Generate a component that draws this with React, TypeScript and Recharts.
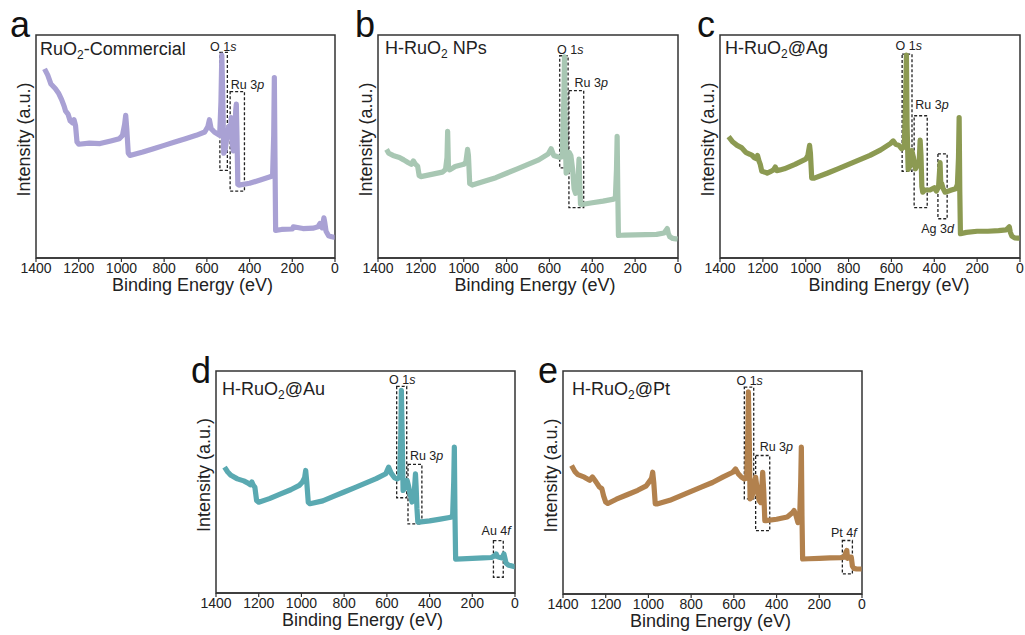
import { LineChart, Line, XAxis, YAxis, ReferenceArea, ReferenceDot } from "recharts";

const TICKS = [1400, 1200, 1000, 800, 600, 400, 200, 0];
const FONT = '"Liberation Sans", Arial, Helvetica, sans-serif';

// a: RuO2-Commercial
const commercialEnergy = [
  1360, 1345, 1330, 1310, 1295, 1280, 1268, 1262, 1250, 1240,
  1228, 1222, 1215, 1208, 1200, 1150, 1100, 1050, 1010, 995,
  985, 980, 975, 968, 960, 900, 850, 800, 750, 700,
  650, 610, 595, 588, 580, 565, 548, 540, 534, 530,
  526, 521, 515, 505, 497, 490, 486, 482, 476, 470,
  465, 462, 459, 455, 450, 400, 350, 300, 292, 287,
  284, 281, 278, 250, 200, 195, 150, 100, 80, 70,
  60, 52, 48, 42, 30, 15, 5, 2,
];
const commercialIntensity = [
  84.8, 82, 78, 76, 74, 71, 68, 66, 64.5, 61.5,
  60.5, 62, 59.5, 52, 51, 51.5, 51.3, 52.5, 53.5, 55,
  60, 64, 58, 47, 46, 47.5, 49, 50.5, 52, 53.5,
  55, 56.5, 59, 62, 58, 56.5, 55.5, 55, 70, 91,
  75, 47, 48, 55, 59, 55, 63, 52, 48, 50,
  66, 69, 55, 33, 32.7, 33.5, 35, 36.5, 37.5, 55,
  80.9, 45, 12.4, 12.8, 13, 14, 13.2, 13.4, 14, 15.5,
  13.5, 18, 16, 12, 10, 9.5, 9.3, 9.3,
];

// b: H-RuO2 NPs
const npsEnergy = [
  1360, 1350, 1330, 1300, 1280, 1260, 1245, 1235, 1225, 1215,
  1208, 1200, 1150, 1100, 1085, 1078, 1075, 1071, 1065, 1040,
  1000, 990, 982, 978, 972, 960, 900, 850, 800, 750,
  700, 650, 605, 592, 580, 565, 550, 540, 533, 530,
  527, 522, 515, 508, 500, 492, 485, 478, 470, 465,
  462, 459, 455, 450, 400, 350, 300, 292, 287, 284,
  281, 278, 250, 200, 150, 100, 65, 55, 50, 45,
  38, 25, 10, 2,
];
const npsIntensity = [
  48.7, 47, 46, 45.1, 44, 42.8, 42, 43.5, 42, 41.2,
  37, 36.5, 37.5, 38.5, 39.7, 45, 56.8, 40, 39.5, 41,
  42, 43, 48.7, 46, 33.4, 32.7, 34.5, 36, 38, 40,
  42, 44, 46.7, 49, 46, 45.5, 45.1, 45.5, 70, 90.2,
  60, 38.1, 39, 47.4, 46, 40, 31, 29, 32, 38,
  44.3, 35, 24.1, 24, 24.8, 25.5, 26.4, 27.5, 40, 54.6,
  30, 10.1, 10.3, 10.4, 10.5, 10.6, 11.2, 12.5, 13.2, 11,
  9.5, 8.8, 8.6, 8.5,
];

// c: H-RuO2@Ag
const agEnergy = [
  1360, 1340, 1320, 1300, 1280, 1260, 1250, 1240, 1230, 1225,
  1218, 1212, 1205, 1190, 1180, 1160, 1150, 1142, 1135, 1120,
  1100, 1050, 1000, 990, 982, 978, 972, 960, 900, 850,
  800, 750, 700, 650, 605, 592, 580, 565, 552, 540,
  534, 530, 527, 522, 515, 505, 497, 488, 480, 470,
  466, 462, 458, 454, 445, 420, 400, 390, 380, 376,
  373, 370, 366, 360, 350, 320, 300, 292, 287, 284,
  281, 278, 250, 200, 150, 100, 65, 55, 50, 45,
  38, 25, 10, 2,
];
const agIntensity = [
  54.4, 52, 50.5, 49.5, 47.4, 46.5, 46, 45, 44.5, 46,
  43.5, 42, 38.9, 38.5, 38.1, 39, 39.5, 40.8, 39.2, 39.5,
  40, 42, 44.3, 46, 50.5, 47, 35.8, 35.8, 38, 40,
  42, 44, 46, 48.5, 51.3, 52.5, 51, 50.5, 49, 50,
  70, 91, 60, 39.7, 41, 48.2, 45, 40, 41.5, 44,
  52.9, 46, 32, 29.5, 30.5, 30.5, 31.5, 30, 32, 38,
  42.8, 34, 33.5, 31.5, 29.5, 30.5, 31.1, 33, 45, 63,
  30, 10.9, 11.5, 12, 12, 12.3, 12.6, 13.5, 14, 11.5,
  9.8, 9, 8.9, 8.9,
];

// d: H-RuO2@Au
const auEnergy = [
  1360, 1345, 1330, 1300, 1270, 1250, 1240, 1232, 1225, 1218,
  1210, 1200, 1150, 1100, 1050, 1010, 995, 985, 980, 975,
  968, 960, 900, 850, 800, 750, 700, 650, 605, 592,
  580, 565, 552, 540, 535, 532, 528, 524, 515, 505,
  498, 490, 482, 472, 466, 463, 459, 455, 450, 400,
  350, 300, 292, 287, 284, 281, 278, 250, 200, 150,
  110, 92, 88, 84, 78, 70, 60, 52, 48, 42,
  30, 15, 5, 2,
];
const auIntensity = [
  56.7, 54.5, 53, 51.4, 50.5, 49.5, 48.8, 50, 48.5, 47.7,
  41.7, 40.9, 42.5, 44.5, 46.5, 48.5, 50, 52, 55.2, 50,
  40.9, 40.2, 41.5, 43.5, 45.5, 47.5, 49.5, 51.5, 53.7, 56.7,
  54, 52, 51.4, 52, 70, 91.3, 70, 46.2, 47.5, 50.7,
  48, 44, 41, 45, 53.7, 48, 38, 31.9, 31.9, 32.5,
  33.3, 34.1, 35, 50, 65.7, 35, 15.3, 15.4, 15.6, 15.8,
  16, 17, 17.6, 16.5, 16.2, 16, 15.8, 17.6, 16, 13.5,
  12.5, 12.2, 11.9, 11.9,
];

// e: H-RuO2@Pt
const ptEnergy = [
  1360, 1345, 1330, 1300, 1275, 1262, 1250, 1240, 1230, 1218,
  1210, 1200, 1190, 1150, 1100, 1050, 1010, 995, 985, 980,
  975, 968, 960, 900, 850, 800, 750, 700, 650, 605,
  592, 580, 565, 550, 540, 535, 532, 528, 524, 515,
  505, 498, 490, 482, 474, 468, 465, 460, 455, 450,
  400, 350, 325, 318, 310, 300, 292, 287, 284, 281,
  278, 250, 200, 150, 100, 82, 76, 71, 68, 62,
  55, 50, 45, 38, 25, 10, 2,
];
const ptIntensity = [
  57.6, 55, 53.5, 52.4, 51, 52.5, 50.9, 49.5, 48, 47.2,
  44, 41.2, 40.6, 42.5, 44.5, 46.5, 48.5, 50.5, 52, 54.6,
  50, 40.4, 40.4, 42, 44, 46, 48, 50, 52.5, 54.6,
  56.1, 54, 52.5, 51.6, 52, 70, 90.6, 70, 42.7, 43.5,
  50, 52.4, 46, 42, 41, 50, 54.6, 46, 32.9, 32.9,
  33.5, 34.5, 36.5, 37.4, 35.5, 32, 33.5, 50, 65.9, 35,
  15.7, 15.8, 16, 16.2, 16.3, 16.5, 18.7, 19.5, 16, 16.5,
  16.5, 16.5, 12.5, 11.5, 11.2, 11.2, 11.2,
];

// dashed boxes: [x1, x2, y1, y2]
const commercialBoxes = [[539, 504, 39.3, 92.2], [491, 424, 30, 74.6]];
const npsBoxes = [[552, 513, 40.4, 90.7], [509, 440, 22.6, 75.1]];
const agBoxes = [[550, 504, 38.9, 91.4], [494, 433, 22.6, 63.8], [383, 340, 17.6, 46.7]];
const auBoxes = [[554, 507, 42.9, 93.1], [501, 436, 31.1, 57.9], [101, 55, 7.1, 23.6]];
const ptBoxes = [[551, 507, 42.7, 92.8], [498, 432, 28.4, 62.1], [92, 45, 9, 24]];

// peak labels: [x, y(baseline), text, italic suffix]
type Note = [number, number, string, string];
const commercialNotes: Note[] = [[523, 92.8, "O 1", "s"], [410, 76, "Ru 3", "p"]];
const npsNotes: Note[] = [[503, 91.3, "O 1", "s"], [405, 76.7, "Ru 3", "p"]];
const agNotes: Note[] = [[519, 93.3, "O 1", "s"], [411, 66.9, "Ru 3", "p"], [385, 11.4, "Ag 3", "d"]];
const auNotes: Note[] = [[528, 94.3, "O 1", "s"], [414, 59.7, "Ru 3", "p"], [88, 26.3, "Au 4", "f"]];
const ptNotes: Note[] = [[526, 93.6, "O 1", "s"], [401, 64, "Ru 3", "p"], [85, 25.7, "Pt 4", "f"]];

const zip = (e: number[], v: number[]) => e.map((x, k) => ({ e: x, y: v[k] }));

const YW = 30;
const MT = 6;
const MR = 8;
const XH = 46;

function Panel(props: any) {
  const { data, color, x, y, w, h, boxes, notes, xShift } = props;
  return (
    <div style={{ position: "absolute", left: x - YW, top: y - MT }}>
      <LineChart
        width={YW + w + MR}
        height={MT + h + XH}
        data={data}
        margin={{ top: MT, right: MR, left: 0, bottom: 0 }}
      >
        <XAxis
          type="number"
          dataKey="e"
          domain={[0, 1400]}
          reversed
          allowDataOverflow
          ticks={TICKS}
          interval={0}
          height={XH}
          tickSize={4}
          tickMargin={1}
          tick={{ fontSize: 14, fill: "#222" }}
          axisLine={{ stroke: "#333", strokeWidth: 1.5 }}
          tickLine={{ stroke: "#333", strokeWidth: 1.2 }}
          label={{
            content: (p: any) => {
              const vb = p.viewBox || { x: 0, y: 0, width: 0, height: 0 };
              return (
                <text x={vb.x + vb.width / 2 + xShift} y={vb.y + 32.5} textAnchor="middle" fontSize={18} fill="#222">
                  Binding Energy (eV)
                </text>
              );
            },
          }}
        />
        <YAxis
          type="number"
          domain={[0, 100]}
          allowDataOverflow
          width={YW}
          tick={false}
          tickLine={false}
          axisLine={false}
          label={{
            content: (p: any) => {
              const vb = p.viewBox || { x: 0, y: 0, width: 0, height: 0 };
              const cx = vb.x + vb.width / 2 + 3;
              const cy = vb.y + vb.height / 2 - 7;
              return (
                <text x={cx} y={cy} transform={`rotate(-90 ${cx} ${cy})`} textAnchor="middle" dominantBaseline="central" fontSize={18} fill="#222">
                  Intensity (a.u.)
                </text>
              );
            },
          }}
        />
        <ReferenceArea x1={0} x2={1400} y1={0} y2={100} fill="none" stroke="#333" strokeWidth={1.5} />
        {boxes.map((b: number[], i: number) => (
          <ReferenceArea
            key={i}
            x1={b[0]}
            x2={b[1]}
            y1={b[2]}
            y2={b[3]}
            fill="none"
            stroke="#222"
            strokeWidth={1.3}
            strokeDasharray="3 2"
          />
        ))}
        <Line
          type="linear"
          dataKey="y"
          stroke={color}
          strokeWidth={5.2}
          strokeLinejoin="round"
          dot={false}
          isAnimationActive={false}
        />
        {notes.map((n: Note, i: number) => (
          <ReferenceDot
            key={"n" + i}
            x={n[0]}
            y={n[1]}
            r={0}
            shape={(p: any) => (
              <text x={p.cx} y={p.cy} textAnchor="middle" fontSize={12.5} fill="#222">
                {n[2]}
                <tspan fontStyle="italic">{n[3]}</tspan>
              </text>
            )}
          />
        ))}
      </LineChart>
    </div>
  );
}

function Title({ x, y, tail, head = "H-RuO" }: any) {
  return (
    <text x={x} y={y} fontSize={18} fill="#222">
      {head}
      <tspan fontSize={12} dy={4}>2</tspan>
      <tspan dy={-4}>{tail}</tspan>
    </text>
  );
}

export default function App() {
  return (
    <div
      style={{
        position: "absolute",
        left: 0,
        top: 0,
        width: 1025,
        height: 635,
        overflow: "hidden",
        background: "#fff",
        fontFamily: FONT,
      }}
    >
      <Panel data={zip(commercialEnergy, commercialIntensity)} color="#a9a1d4" x={36} y={35} w={299} h={223} boxes={commercialBoxes} notes={commercialNotes} xShift={7} />
      <Panel data={zip(npsEnergy, npsIntensity)} color="#a8c7b3" x={378} y={35} w={300} h={223} boxes={npsBoxes} notes={npsNotes} xShift={7} />
      <Panel data={zip(agEnergy, agIntensity)} color="#8c9a52" x={720} y={35} w={300} h={223} boxes={agBoxes} notes={agNotes} xShift={19} />
      <Panel data={zip(auEnergy, auIntensity)} color="#5aa9b1" x={216} y={371} w={299} h={222} boxes={auBoxes} notes={auNotes} xShift={-3} />
      <Panel data={zip(ptEnergy, ptIntensity)} color="#b2814d" x={563} y={371} w={299} h={223} boxes={ptBoxes} notes={ptNotes} xShift={-2} />
      <svg
        width={1025}
        height={635}
        style={{ position: "absolute", left: 0, top: 0, pointerEvents: "none" }}
        fontFamily={FONT}
      >
        <g fontSize={36} fill="#111">
          <text x={10} y={37}>a</text>
          <text x={355} y={37}>b</text>
          <text x={697} y={37}>c</text>
          <text x={191} y={383}>d</text>
          <text x={538} y={383}>e</text>
        </g>
        <Title x={40} y={55} head="RuO" tail="-Commercial" />
        <Title x={385} y={54} tail=" NPs" />
        <Title x={725} y={54} tail="@Ag" />
        <Title x={222} y={395} tail="@Au" />
        <Title x={572} y={395} tail="@Pt" />
      </svg>
    </div>
  );
}
